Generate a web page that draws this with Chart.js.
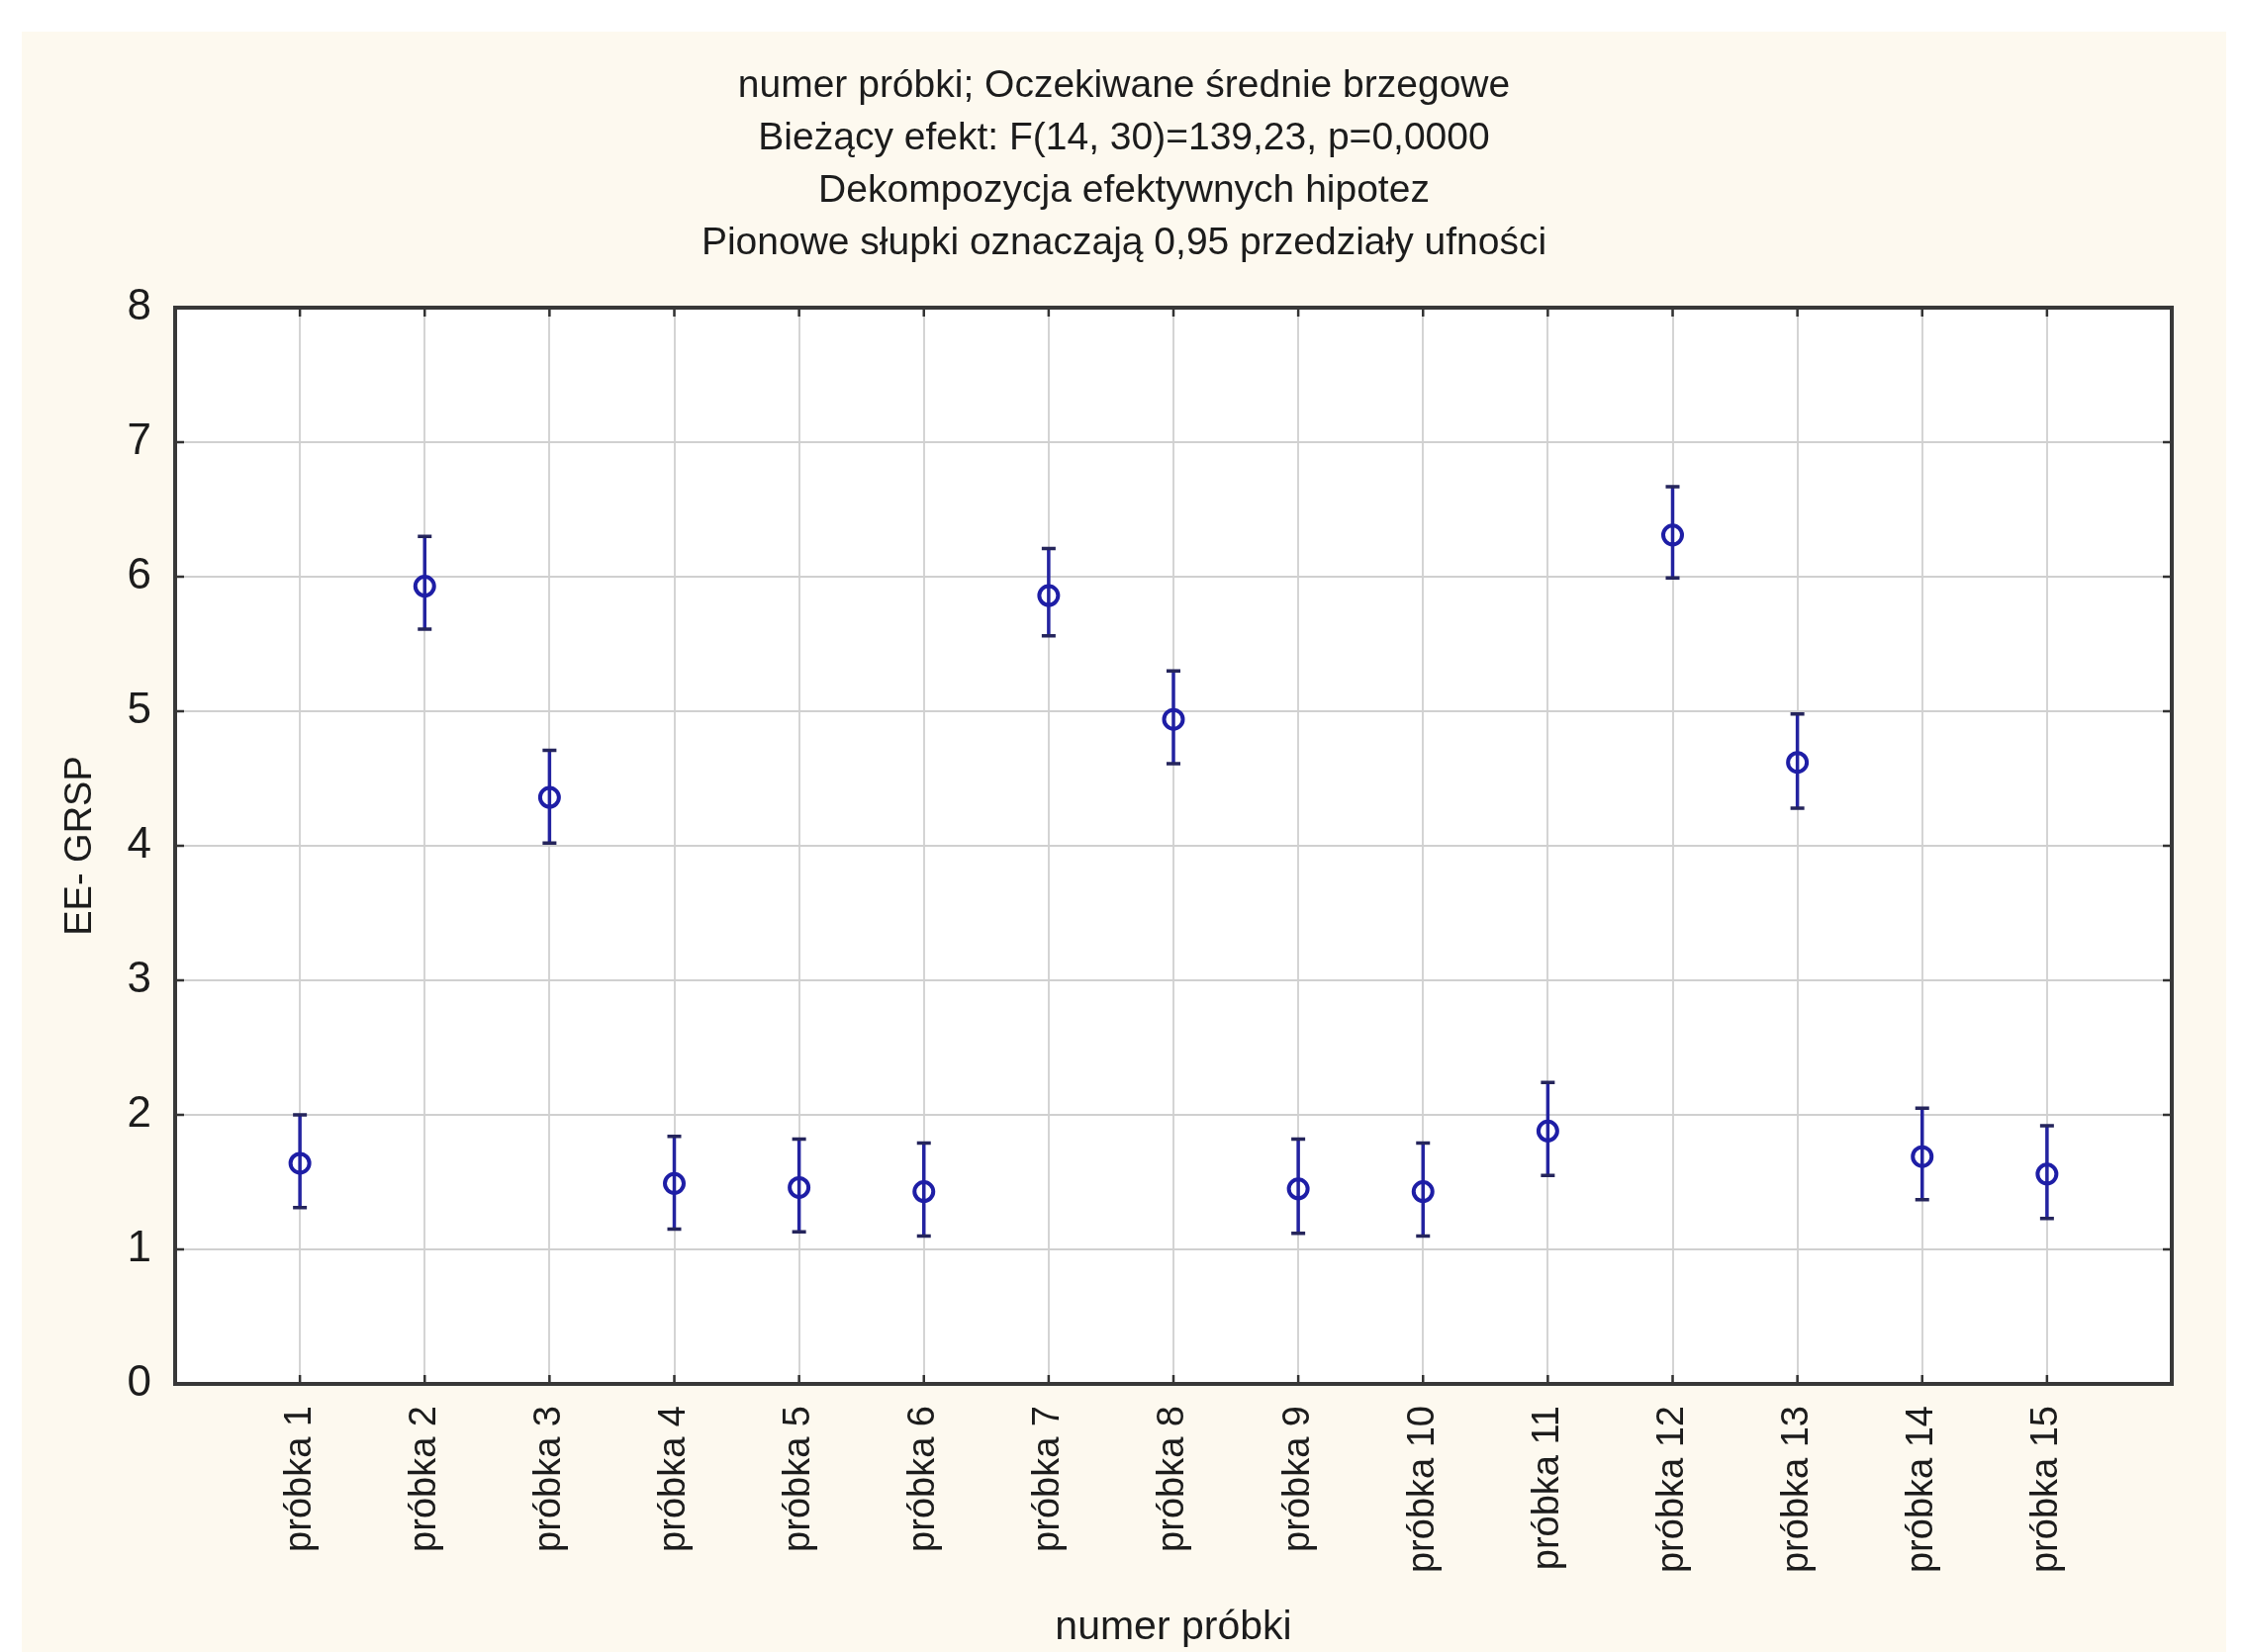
<!DOCTYPE html>
<html lang="pl">
<head>
<meta charset="utf-8">
<title>numer próbki; Oczekiwane średnie brzegowe</title>
<script src="https://cdn.jsdelivr.net/npm/chart.js@4.4.1/dist/chart.umd.min.js"></script>
<style>
  html, body { margin: 0; padding: 0; background: #ffffff; }
  #frame { position: absolute; left: 22px; top: 32px; width: 2228px; height: 1638px; background: #fdf9ef; }
</style>
</head>
<body>
<div id="frame"><canvas id="myChart"></canvas></div>
<script>
'use strict';

// Data
const categories = [
  'próbka 1', 'próbka 2', 'próbka 3', 'próbka 4', 'próbka 5',
  'próbka 6', 'próbka 7', 'próbka 8', 'próbka 9', 'próbka 10',
  'próbka 11', 'próbka 12', 'próbka 13', 'próbka 14', 'próbka 15',
];
const means   = [1.64, 5.93, 4.36, 1.49, 1.46, 1.43, 5.86, 4.94, 1.45, 1.43, 1.88, 6.31, 4.62, 1.69, 1.56];
const lowerCI = [1.31, 5.61, 4.02, 1.15, 1.13, 1.10, 5.56, 4.61, 1.12, 1.10, 1.55, 5.99, 4.28, 1.37, 1.23];
const upperCI = [2.00, 6.30, 4.71, 1.84, 1.82, 1.79, 6.21, 5.30, 1.82, 1.79, 2.24, 6.67, 4.98, 2.05, 1.92];
const yTicks = [0, 1, 2, 3, 4, 5, 6, 7, 8];

const titleLines = [
  'numer próbki; Oczekiwane średnie brzegowe',
  'Bieżący efekt: F(14, 30)=139,23, p=0,0000',
  'Dekompozycja efektywnych hipotez',
  'Pionowe słupki oznaczają 0,95 przedziały ufności',
];
const xTitle = 'numer próbki';
const yTitle = 'EE- GRSP';

const FONT = '"Liberation Sans", Arial, sans-serif';
const TEXT = '#1c1c1c';

// white plot area on the cream page
const plotBackground = {
  id: 'plotBackground',
  beforeDraw(chart) {
    const a = chart.chartArea;
    const ctx = chart.ctx;
    ctx.save();
    ctx.fillStyle = '#ffffff';
    ctx.fillRect(a.left, a.top, a.right - a.left, a.bottom - a.top);
    ctx.restore();
  }
};

// vertical confidence interval whiskers
const errorBars = {
  id: 'errorBars',
  beforeDatasetsDraw(chart) {
    const ctx = chart.ctx;
    const xs = chart.scales.x;
    const ys = chart.scales.y;
    ctx.save();
    for (let i = 0; i < categories.length; i++) {
      const x = xs.getPixelForValue(i + 1);
      const yl = ys.getPixelForValue(lowerCI[i]);
      const yu = ys.getPixelForValue(upperCI[i]);
      ctx.strokeStyle = '#2323a0';
      ctx.lineWidth = 3.5;
      ctx.beginPath();
      ctx.moveTo(x, yu);
      ctx.lineTo(x, yl);
      ctx.stroke();
      ctx.strokeStyle = '#25255c';
      ctx.lineWidth = 3.5;
      ctx.beginPath();
      ctx.moveTo(x - 7, yu);
      ctx.lineTo(x + 7, yu);
      ctx.moveTo(x - 7, yl);
      ctx.lineTo(x + 7, yl);
      ctx.stroke();
    }
    ctx.restore();
  }
};

// dark frame with inward tick marks
const plotFrame = {
  id: 'plotFrame',
  afterDatasetsDraw(chart) {
    const a = chart.chartArea;
    const ctx = chart.ctx;
    const xs = chart.scales.x;
    const ys = chart.scales.y;
    ctx.save();
    ctx.strokeStyle = '#333333';
    ctx.lineWidth = 2.5;
    ctx.beginPath();
    for (let i = 0; i < categories.length; i++) {
      const x = xs.getPixelForValue(i + 1);
      ctx.moveTo(x, a.bottom);
      ctx.lineTo(x, a.bottom - 9);
      ctx.moveTo(x, a.top);
      ctx.lineTo(x, a.top + 9);
    }
    for (let i = 1; i < yTicks.length - 1; i++) {
      const y = ys.getPixelForValue(yTicks[i]);
      ctx.moveTo(a.left, y);
      ctx.lineTo(a.left + 9, y);
      ctx.moveTo(a.right, y);
      ctx.lineTo(a.right - 9, y);
    }
    ctx.stroke();
    ctx.lineWidth = 4;
    ctx.strokeStyle = '#383838';
    ctx.strokeRect(a.left, a.top, a.right - a.left, a.bottom - a.top);
    ctx.restore();
  }
};

const ctx = document.getElementById('myChart').getContext('2d');
const chart = new Chart(ctx, {
  type: 'scatter',
  data: {
    datasets: [{
      label: yTitle,
      data: categories.map((c, i) => ({ x: i + 1, y: means[i] })),
      showLine: false,
      pointRadius: 9.5,
      pointBorderWidth: 4,
      pointBorderColor: '#1e1ea6',
      pointBackgroundColor: 'rgba(0,0,0,0)',
      pointHoverRadius: 9.5,
    }]
  },
  plugins: [plotBackground, errorBars, plotFrame],
  options: {
    responsive: true,
    maintainAspectRatio: false,
    animation: false,
    layout: { padding: 0 },
    plugins: {
      legend: { display: false },
      tooltip: { enabled: false },
      title: {
        display: true,
        text: titleLines,
        color: TEXT,
        font: { family: FONT, size: 39, weight: 'normal', lineHeight: 53 / 39 },
        padding: { top: 28.5, bottom: 38.5 },
      },
    },
    scales: {
      x: {
        type: 'linear',
        min: 0,
        max: 16,
        afterFit(scale) {
          scale.height = 271;
          scale.paddingLeft = 0;
          scale.paddingRight = 0;
        },
        ticks: {
          stepSize: 1,
          autoSkip: false,
          maxRotation: 90,
          minRotation: 90,
          padding: 22,
          color: TEXT,
          font: { family: FONT, size: 38 },
          callback: (v) => categories[v - 1] || '',
        },
        grid: { color: '#d4d4d4', lineWidth: 2, drawTicks: false },
        border: { display: false },
        title: {
          display: true,
          text: xTitle,
          color: TEXT,
          font: { family: FONT, size: 41 },
          padding: { top: 0, bottom: 0 },
        },
      },
      y: {
        min: 0,
        max: 8,
        afterFit(scale) { scale.width = 155; },
        ticks: {
          stepSize: 1,
          padding: 24,
          color: TEXT,
          font: { family: FONT, size: 44 },
          callback: (v) => (yTicks.includes(v) ? String(v) : ''),
        },
        grid: { color: '#d0d0d0', lineWidth: 2, drawTicks: false },
        border: { display: false },
        title: {
          display: true,
          text: yTitle,
          color: TEXT,
          font: { family: FONT, size: 38 },
          padding: { top: 37, bottom: 0 },
        },
      },
      yr: {
        position: 'right',
        afterFit(scale) { scale.width = 55; },
        ticks: { display: false },
        grid: { display: false },
        border: { display: false },
      },
    }
  }
});
</script>
</body>
</html>
